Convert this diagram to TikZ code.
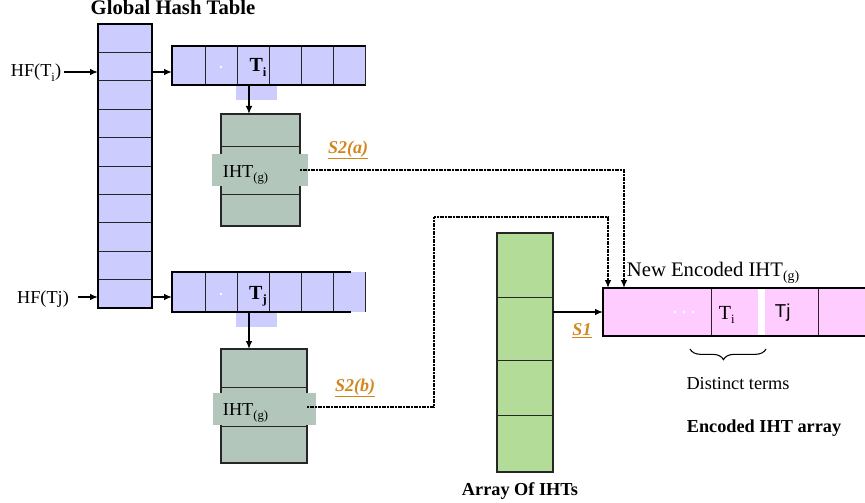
\documentclass[tikz,border=0pt]{standalone}
\usepackage{fontspec}
\setmainfont{Liberation Serif}
\newfontfamily\sansf{Liberation Sans}
\usetikzlibrary{arrows.meta,fit,decorations.pathreplacing,calc}
\definecolor{lav}{HTML}{CCCCFF}
\definecolor{sage}{HTML}{B2C6BC}
\definecolor{leaf}{HTML}{B3DC99}
\definecolor{pinkc}{HTML}{FFCCFF}
\definecolor{stageorange}{HTML}{D4861E}
% lowered small text used for subscripts
\newcommand\lowtxt[2][3.2pt]{\raisebox{-#1}{\fontsize{9.5}{10}\selectfont #2}}
\begin{document}
\begin{tikzpicture}[x=0.75pt,y=-0.75pt,
  font=\fontsize{13.7}{16}\selectfont, inner sep=2pt,
  cellbox/.style={fit={#1}, inner sep=0pt, outer sep=0pt},
  thinrule/.style={line width=0.7pt, draw=black!85},
  heavy/.style={line width=1.9pt, line cap=rect},
  arr/.style={line width=1.1pt, -{Latex[length=6pt,width=5pt]}},
  link/.style={line width=1.2pt, dash pattern=on 1.6pt off 0.4pt, -{Latex[length=6pt,width=5pt]}},
  slabel/.style={text=stageorange, font=\fontsize{13.5}{16}\selectfont\bfseries\itshape},
]
\useasboundingbox (0,0) rectangle (865,503);

% ---------- global hash table ----------
\node[anchor=base, font=\fontsize{15.5}{18}\selectfont\bfseries] (ghtitle) at (173,15) {Global Hash Table};
\node[cellbox={(98,24) (152,308)}, fill=lav] (ght) {};
\foreach \k in {1,...,9} \draw[thinrule] (98,{24+28.4*\k}) -- (152,{24+28.4*\k});
\draw[heavy] (ght.south west) rectangle (ght.north east);

\node[anchor=base] (hfi) at (36,77) {HF(T\lowtxt{i})};
\node[anchor=base] (hfj) at (43,303) {HF(Tj)};
\coordinate (hfia) at (64,72);
\coordinate (hfja) at (78,297);
\draw[arr] (hfia) -- (hfia -| ght.west);
\draw[arr] (hfja) -- (hfja -| ght.west);

% ---------- bucket of T_i ----------
\node[cellbox={(172,46) (365,85)}, fill=lav] (bi) {};
\node[cellbox={(236,85) (277,100)}, fill=lav] (tabi) {};
\foreach \x in {205,237,269,301,333} \draw[thinrule] (\x,46) -- (\x,85);
\draw[heavy] (bi.north east) -- (bi.north west) -- (bi.south west) -- (bi.south east);
\draw[thinrule] (bi.north east) -- (bi.south east);
\fill[white] (221,67) circle (1.3);
\node[anchor=base] (ti) at (258,72) {\fontsize{15}{16}\selectfont\bfseries T\lowtxt{i}};

% ---------- bucket of T_j ----------
\node[cellbox={(172,272) (365,312)}, fill=lav] (bj) {};
\node[cellbox={(236,312) (277,327)}, fill=lav] (tabj) {};
\foreach \x in {205,237,269,301,333} \draw[thinrule] (\x,272) -- (\x,312);
\draw[heavy] (350,272) -- (bj.north west) -- (bj.south west) -- (350,312);
\draw[thinrule] (bj.north east) -- (bj.south east);
\fill[white] (221,294) circle (1.3);
\node[anchor=base] (tj) at (258,299) {\fontsize{15}{16}\selectfont\bfseries T\lowtxt{j}};

\draw[arr] (ght.east |- hfia) -- (bi.west |- hfia);
\draw[arr] (ght.east |- hfja) -- (bj.west |- hfja);

% ---------- IHT of T_i ----------
\node[cellbox={(221,114) (300,226)}, fill=sage, draw=black!85, line width=0.8pt] (ihta) {};
\draw[thinrule] (221,146) -- (300,146) (221,194) -- (300,194);
\node[cellbox={(212,154) (308,186)}, fill=sage] (banda) {};
\node[anchor=base west] (iga) at (220,177) {IHT\lowtxt{(g)}};
\coordinate (ai) at (249,85);
\draw[arr] (ai) -- (ai |- ihta.north);

% ---------- IHT of T_j ----------
\node[cellbox={(221,349) (307,463)}, fill=sage, draw=black!85, line width=0.8pt] (ihtb) {};
\draw[thinrule] (221,387) -- (307,387) (221,426) -- (307,426);
\node[cellbox={(213,393) (316,425)}, fill=sage] (bandb) {};
\node[anchor=base west] (igb) at (220,415) {IHT\lowtxt{(g)}};
\coordinate (aj) at (249,312);
\draw[arr] (aj) -- (aj |- ihtb.north);

% ---------- array of IHTs ----------
\node[cellbox={(497,233) (553,472)}, fill=leaf, draw=black!85, line width=0.8pt] (iharr) {};
\draw[thinrule] (497,297) -- (553,297) (497,360) -- (553,360) (497,415) -- (553,415);
\node[anchor=base, font=\fontsize{13.7}{16}\selectfont\bfseries] (arrtitle) at (520,495) {Array Of IHTs};

% ---------- encoded IHT array ----------
\node[cellbox={(603,288) (875,336)}, fill=pinkc] (enc) {};
\fill[white] (758,288) rectangle (765,336);
\draw[thinrule] (711,288) -- (711,336) (818,288) -- (818,336);
\draw[heavy] (enc.north east) -- (enc.north west) -- (enc.south west) -- (enc.south east);
\foreach \x in {675,684,693} \fill[white] (\x,312) circle (1.4);
\node[anchor=base west] (eti) at (716,319) {\fontsize{15}{16}\selectfont T\lowtxt{i}};
\node[anchor=base west, font=\fontsize{14}{16}\selectfont\sansf] (etj) at (772,317) {Tj};
\node[anchor=base west, font=\fontsize{15.5}{18}\selectfont] (enctitle) at (624,276) {New Encoded IHT\lowtxt[3.6pt]{\fontsize{10.5}{11}\selectfont(g)}};

\draw[decorate, decoration={brace, amplitude=8pt, mirror, aspect=0.44}, line width=0.8pt]
  (690,349) -- (766,349);
\node[anchor=base] (distinct) at (738,389) {Distinct terms};
\node[anchor=base, font=\fontsize{13.7}{16}\selectfont\bfseries] (enclabel) at (764,432) {Encoded IHT array};

% ---------- connectors between the stages ----------
\coordinate (ina) at (624,288);
\coordinate (inb) at (608,288);
\coordinate (bendb) at (434,217);
\draw[link] (ihta.east |- 0,170) -| (ina);
\draw[link] (ihtb.east |- 0,407) -| (bendb) -| (inb);
\draw[arr] (iharr.east |- enc.west) -- (enc.west);

\node[slabel, anchor=base] (s2a) at (348,153) {\underline{S2(a)}};
\node[slabel, anchor=base] (s2b) at (355,391) {\underline{S2(b)}};
\node[slabel, anchor=base] (s1) at (582,335) {\underline{S1}};
\end{tikzpicture}
\end{document}
